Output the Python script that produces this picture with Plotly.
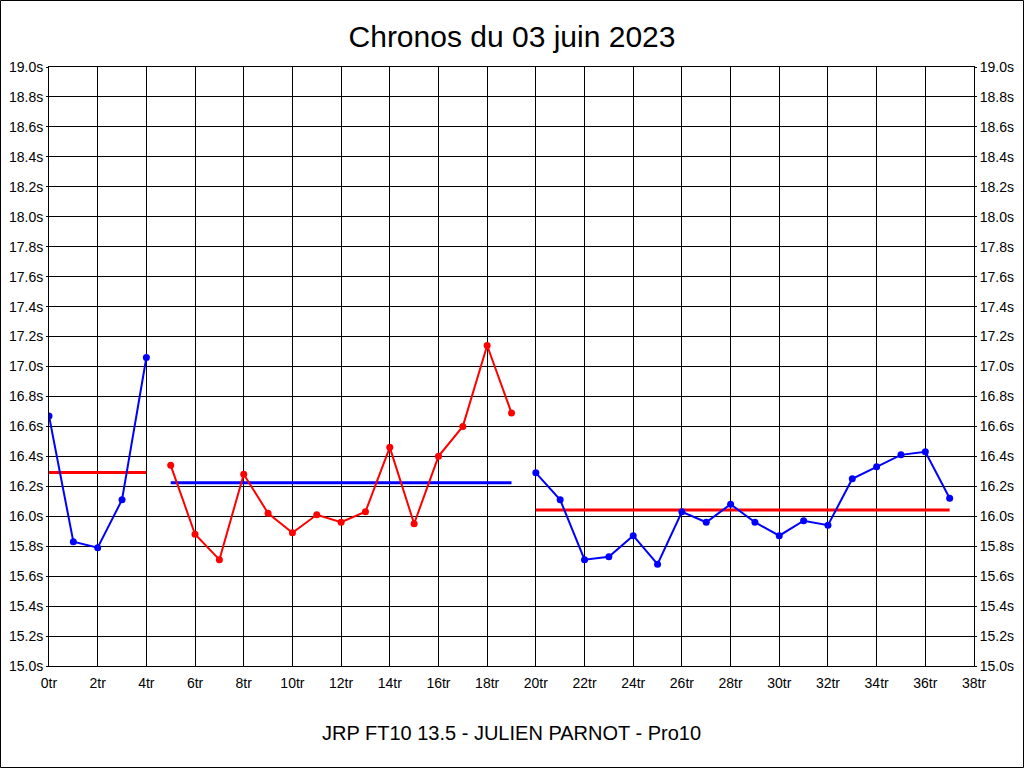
import plotly.graph_objects as go

# Lap indices and lap times (seconds)
laps_1 = [0, 1, 2, 3, 4]
times_1 = [16.67, 15.83, 15.79, 16.11, 17.06]

laps_2 = [5, 6, 7, 8, 9, 10, 11, 12, 13, 14, 15, 16, 17, 18, 19]
times_2 = [16.34, 15.88, 15.71, 16.28, 16.02, 15.89, 16.01, 15.96, 16.03,
           16.46, 15.95, 16.40, 16.60, 17.14, 16.69]

laps_3 = [20, 21, 22, 23, 24, 25, 26, 27, 28, 29, 30, 31, 32, 33, 34, 35, 36, 37]
times_3 = [16.29, 16.11, 15.71, 15.73, 15.87, 15.68, 16.03, 15.96, 16.08,
           15.96, 15.87, 15.97, 15.94, 16.25, 16.33, 16.41, 16.43, 16.12]

title_text = "Chronos du 03 juin 2023"
subtitle_text = "JRP FT10 13.5 - JULIEN PARNOT - Pro10"

x_ticks = list(range(0, 40, 2))
x_tick_labels = [f"{v}tr" for v in x_ticks]
y_ticks = [round(15.0 + 0.2 * i, 1) for i in range(21)]
y_tick_labels = [f"{v:.1f}s" for v in y_ticks]

BLUE = "#0000ff"
RED = "#ff0000"

segments = [
    (laps_1, times_1, BLUE, RED),
    (laps_2, times_2, RED, BLUE),
    (laps_3, times_3, BLUE, RED),
]

fig = go.Figure()
for laps, times, col, mean_col in segments:
    mean = sum(times) / len(times)
    fig.add_trace(go.Scatter(
        x=[laps[0], laps[-1]], y=[mean, mean], mode="lines",
        line=dict(color=mean_col, width=3), showlegend=False, hoverinfo="skip"))
    fig.add_trace(go.Scatter(
        x=laps, y=times, mode="lines+markers",
        line=dict(color=col, width=2), marker=dict(color=col, size=7),
        showlegend=False))

# invisible trace for the right-hand axis
fig.add_trace(go.Scatter(x=[0], y=[15.0], yaxis="y2", mode="markers",
                         marker=dict(opacity=0), showlegend=False, hoverinfo="skip"))

L, R, T, B = 49, 50, 67, 102
PW, PH = 1024 - L - R, 768 - T - B
font_family = "Liberation Sans Narrow, Liberation Sans, Arial, sans-serif"

fig.update_layout(
    width=1024, height=768,
    margin=dict(l=L, r=R, t=T, b=B, pad=0, autoexpand=False),
    paper_bgcolor="white", plot_bgcolor="white",
    title=dict(text=title_text, x=0.5, xanchor="center", y=1 - 36 / 768, yanchor="middle",
               font=dict(family="Liberation Sans, Arial, sans-serif", size=30, color="black")),
    xaxis=dict(range=[0, 38], tickvals=x_ticks, ticktext=x_tick_labels, automargin=False,
               showgrid=True, gridcolor="black", gridwidth=1, ticklabelstandoff=4,
               showline=True, linecolor="black", linewidth=1, mirror=True,
               zeroline=False, ticks="", tickfont=dict(family=font_family, size=14, color="black")),
    yaxis=dict(range=[15.0, 19.0], tickvals=y_ticks, ticktext=y_tick_labels, automargin=False,
               showgrid=True, gridcolor="black", gridwidth=1,
               showline=True, linecolor="black", linewidth=1, mirror=True,
               zeroline=False, ticks="outside", ticklen=2, tickcolor="black",
               tickfont=dict(family=font_family, size=14, color="black")),
    yaxis2=dict(range=[15.0, 19.0], tickvals=y_ticks, ticktext=y_tick_labels, automargin=False,
                overlaying="y", side="right", showgrid=False, zeroline=False,
                showline=False, ticks="outside", ticklen=2, tickcolor="black",
                tickfont=dict(family=font_family, size=14, color="black")),
    annotations=[dict(text=subtitle_text, xref="paper", yref="paper",
                      x=0.5, y=(666 - 733) / PH, xanchor="center", yanchor="middle",
                      showarrow=False,
                      font=dict(family="Liberation Sans, Arial, sans-serif", size=20, color="black"))],
    shapes=[dict(type="rect", xref="paper", yref="paper",
                 x0=(0.5 - L) / PW, x1=(1023.5 - L) / PW,
                 y0=(666 - 767.5) / PH, y1=(666 - 0.5) / PH,
                 line=dict(color="black", width=1), fillcolor="rgba(0,0,0,0)", layer="above")],
)
fig.write_html(
    "out.html",
    config={"displayModeBar": False},
    post_script="document.body.style.margin='0';document.body.style.padding='0';"
                "document.body.style.overflow='hidden';",
)
